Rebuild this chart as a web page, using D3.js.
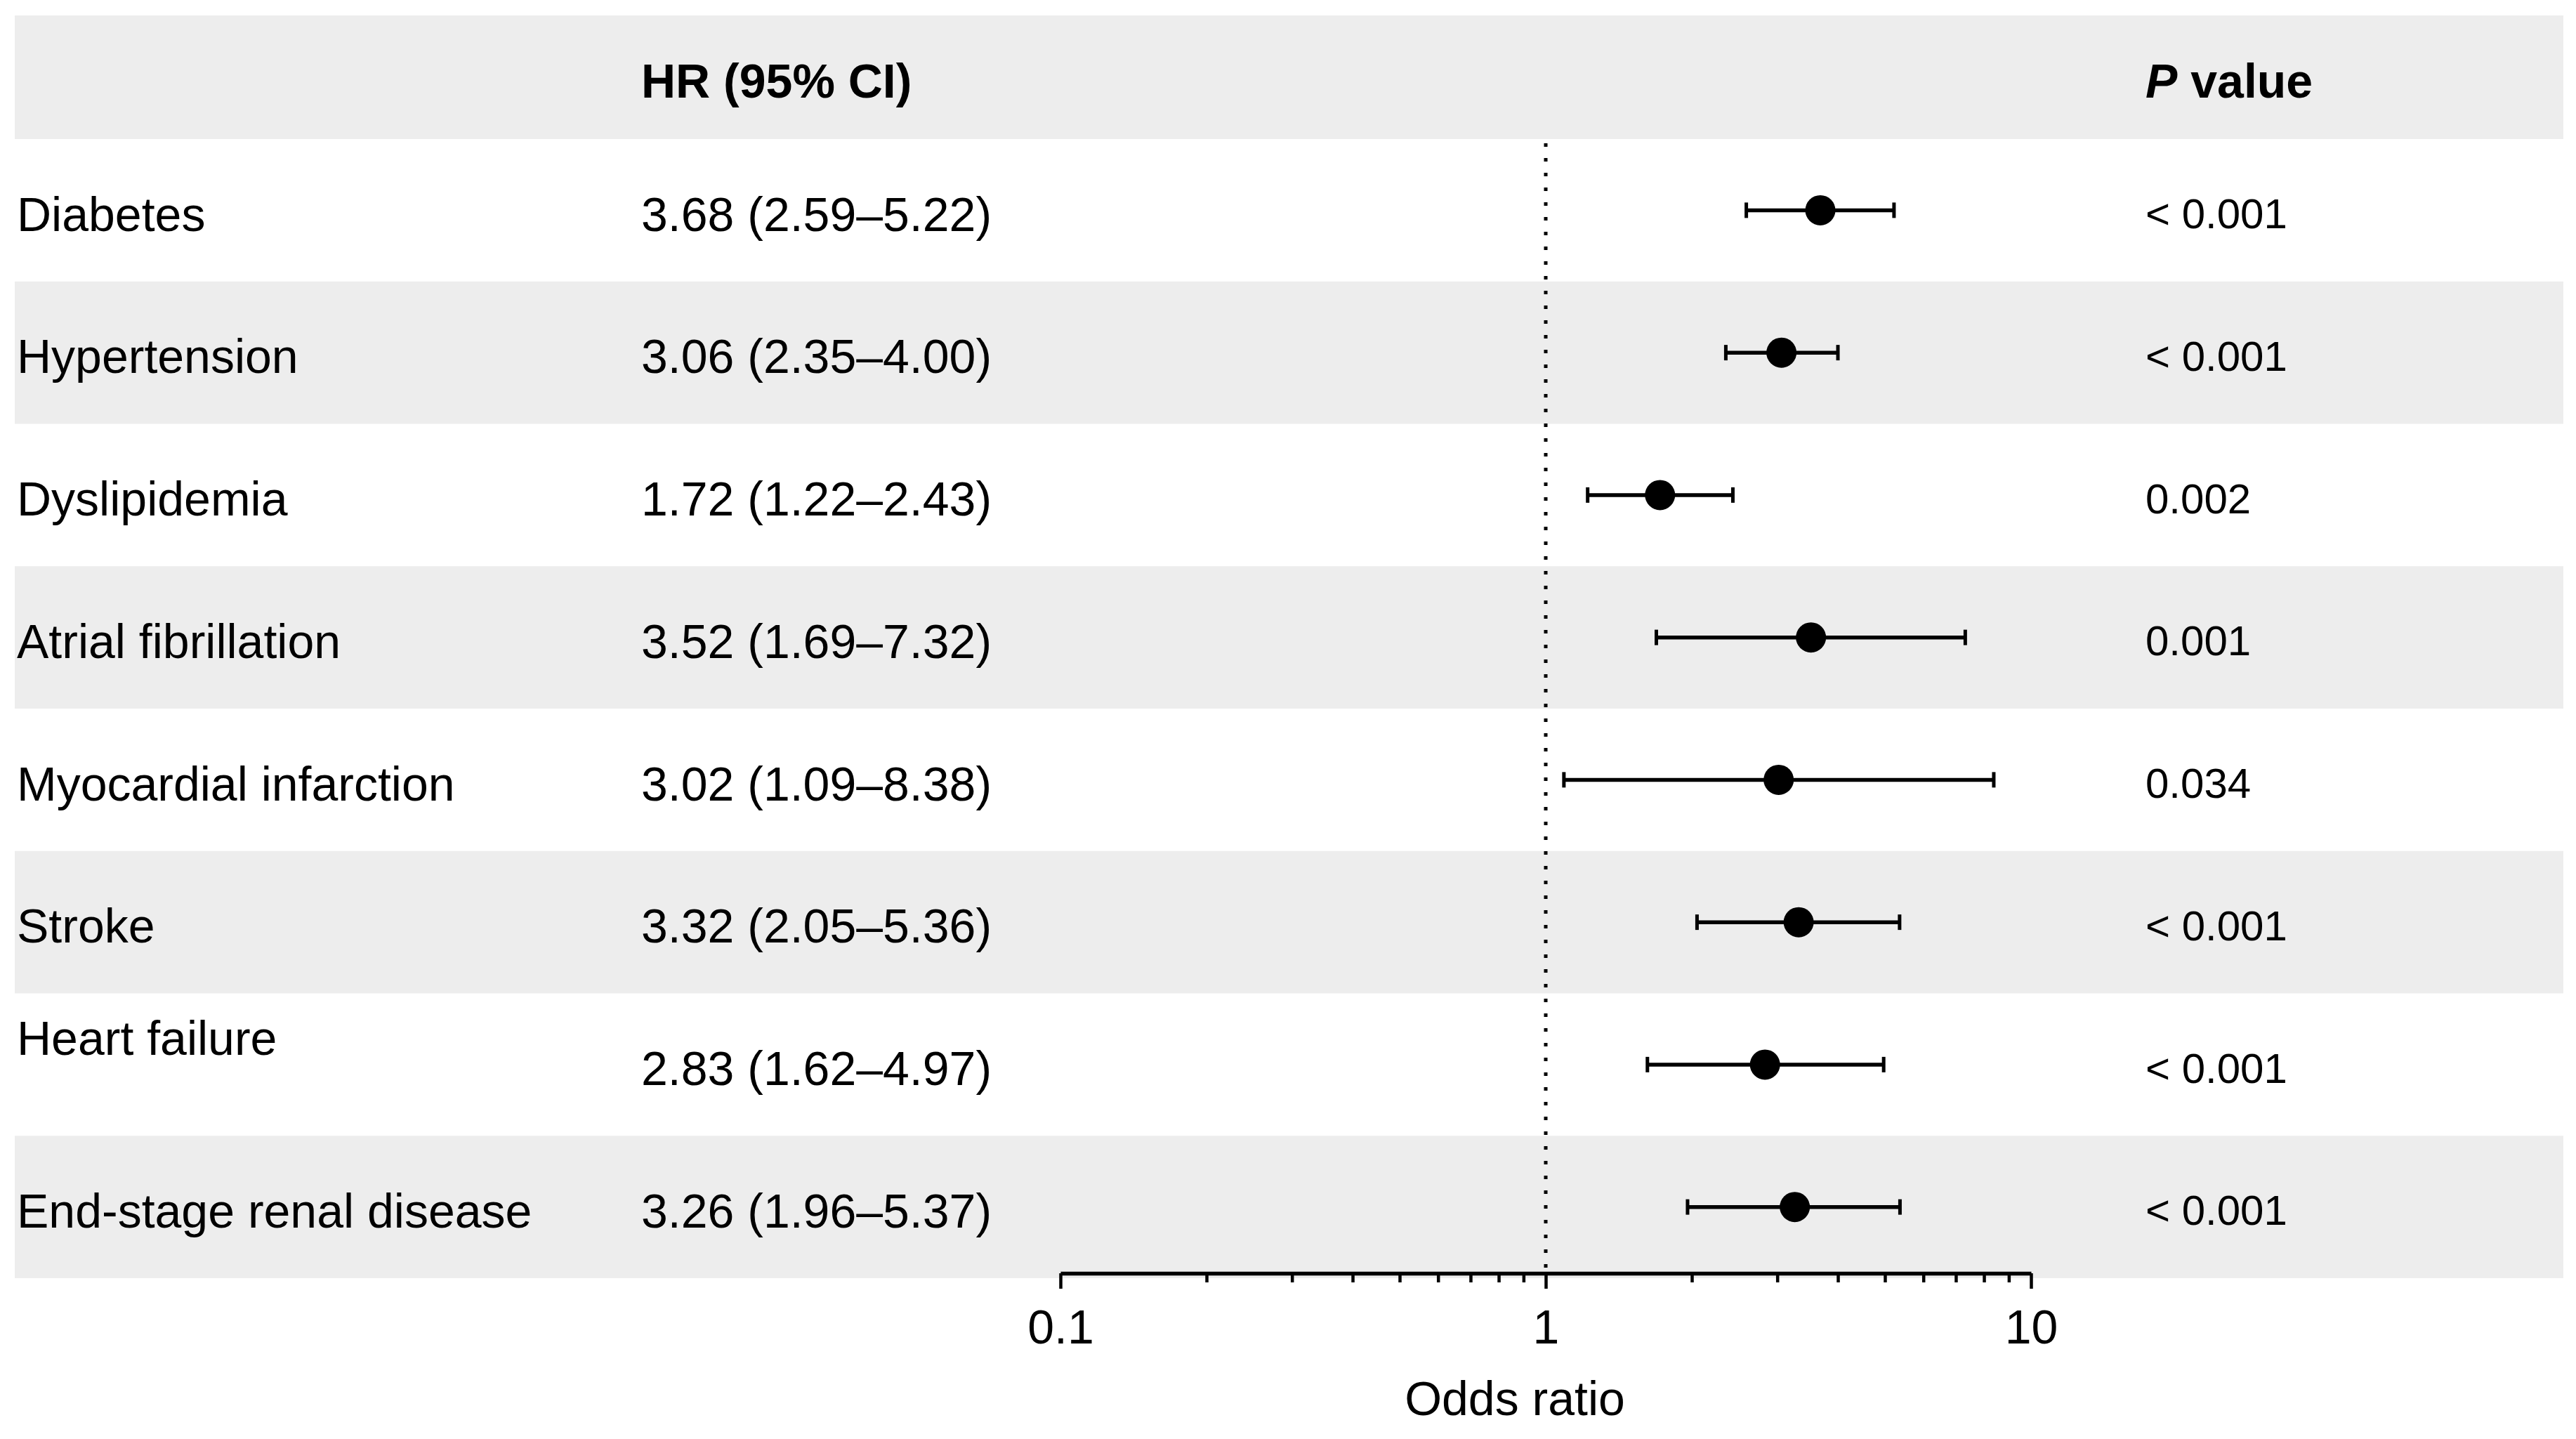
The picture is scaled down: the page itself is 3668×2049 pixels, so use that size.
<!DOCTYPE html>
<html>
<head>
<meta charset="utf-8">
<script src="https://cdn.jsdelivr.net/npm/d3@7"></script>
<style>
  body { margin: 0; background: #fff; }
  text { font-family: "Liberation Sans", Arial, sans-serif; fill: #000; }
</style>
</head>
<body>
<svg id="forest" width="3668" height="2049"></svg>
<script>
// row labels; trailing "\n" keeps the original's two-line cell for heart failure
const labels = ['Diabetes', 'Hypertension', 'Dyslipidemia', 'Atrial fibrillation',
    'Myocardial infarction', 'Stroke', 'Heart failure\n', 'End-stage renal disease'];
const hr = [3.68, 3.06, 1.72, 3.52, 3.02, 3.32, 2.83, 3.26];
const ciLow = [2.59, 2.35, 1.22, 1.69, 1.09, 2.05, 1.62, 1.96];
const ciHigh = [5.22, 4.00, 2.43, 7.32, 8.38, 5.36, 4.97, 5.37];
const pValues = ['< 0.001', '< 0.001', '0.002', '0.001', '0.034', '< 0.001', '< 0.001', '< 0.001'];
const majorTicks = [0.1, 1, 10];
const minorTicks = [0.2, 0.3, 0.4, 0.5, 0.6, 0.7, 0.8, 0.9, 2, 3, 4, 5, 6, 7, 8, 9];

const data = labels.map((d, i) => ({label: d, hr: hr[i], lo: ciLow[i], hi: ciHigh[i], p: pValues[i]}));

const svg = d3.select('#forest');
const left = 21, right = 3650;
const headerTop = 22, headerBottom = 198, rowsBottom = 1820;
const colHR = 913, colP = 3055;
const fs = 68;
const band = '#ededed';
const textDy = '0.43em';

const yScale = d3.scaleBand().domain(d3.range(data.length)).range([headerBottom, rowsBottom]);
const xScale = d3.scaleLog().domain([0.1, 10]).range([1510, 2892]);
const fmtCI = d => d3.format('.2f')(d.hr) + ' (' + d3.format('.2f')(d.lo) + '\u2013' + d3.format('.2f')(d.hi) + ')';

// header band
svg.append('rect')
    .attr('x', left).attr('y', headerTop)
    .attr('width', right - left).attr('height', headerBottom - headerTop)
    .attr('fill', band);
const headY = (headerTop + headerBottom) / 2;
svg.append('text')
    .attr('x', colHR).attr('y', headY).attr('dy', '0.42em')
    .style('font-size', fs + 'px').style('font-weight', 'bold')
    .text('HR (95% CI)');
const pHead = svg.append('text')
    .attr('x', colP).attr('y', headY).attr('dy', '0.42em')
    .style('font-size', fs + 'px').style('font-weight', 'bold');
pHead.append('tspan').style('font-style', 'italic').text('P');
pHead.append('tspan').text(' value');

// alternating row bands
svg.append('g').selectAll('rect')
    .data(data.filter((d, i) => i % 2 == 1))
    .enter().append('rect')
    .attr('x', left)
    .attr('y', d => yScale(data.indexOf(d)))
    .attr('width', right - left)
    .attr('height', yScale.bandwidth())
    .attr('fill', band);

const rows = svg.append('g').selectAll('g')
    .data(data)
    .enter().append('g')
    .attr('transform', (d, i) => `translate(0, ${yScale(i) + yScale.bandwidth() / 2})`);

// label column (multi-line labels are centred as a block)
rows.append('text')
    .style('font-size', fs + 'px')
    .each(function(d) {
        const lines = d.label.split('\n');
        const t = d3.select(this);
        lines.forEach((l, k) => {
            t.append('tspan')
                .attr('x', left + 3)
                .attr('dy', k == 0 ? (0.43 - (lines.length - 1) * 0.63) + 'em' : '1.26em')
                .text(l);
        });
    });

rows.append('text')
    .attr('x', colHR).attr('dy', textDy)
    .style('font-size', fs + 'px')
    .text(fmtCI);

rows.append('text')
    .attr('x', colP).attr('dy', textDy)
    .style('font-size', '60px')
    .text(d => d.p);

// reference line at 1
svg.append('line')
    .attr('x1', xScale(1)).attr('x2', xScale(1))
    .attr('y1', headerBottom + 6).attr('y2', 1808)
    .attr('stroke', '#000').attr('stroke-width', 5)
    .attr('stroke-dasharray', '5 16');

// error bars
rows.append('line')
    .attr('x1', d => xScale(d.lo)).attr('x2', d => xScale(d.hi))
    .attr('stroke', '#000').attr('stroke-width', 5.5);
rows.selectAll('.cap')
    .data(d => [d.lo, d.hi])
    .enter().append('line')
    .attr('class', 'cap')
    .attr('x1', d => xScale(d)).attr('x2', d => xScale(d))
    .attr('y1', -11).attr('y2', 11)
    .attr('stroke', '#000').attr('stroke-width', 5);
rows.append('circle')
    .attr('cx', d => xScale(d.hr))
    .attr('r', 21.5)
    .attr('fill', '#000');

// x axis
const axisY = 1813;
const xAxisG = svg.append('g').attr('transform', `translate(0, ${axisY})`);
xAxisG.call(d3.axisBottom(xScale)
        .tickValues(majorTicks.concat(minorTicks))
        .tickSize(13).tickSizeOuter(0)
        .tickFormat(d => majorTicks.includes(d) ? d3.format('~g')(d) : ''));
xAxisG.select('.domain').attr('stroke', '#000').attr('stroke-width', 5.5);
xAxisG.selectAll('.tick line').attr('stroke', '#000').attr('stroke-width', 4.5);
xAxisG.selectAll('.tick').filter(d => majorTicks.includes(d))
    .select('line').attr('y2', 22);
xAxisG.selectAll('.tick text')
    .attr('y', 100).attr('dy', 0)
    .style('font-size', fs + 'px')
    .style('font-family', '"Liberation Sans", Arial, sans-serif')
    .attr('fill', '#000');

svg.append('text')
    .attr('x', 2157).attr('y', 2015)
    .attr('text-anchor', 'middle')
    .style('font-size', fs + 'px')
    .text('Odds ratio');
</script>
</body>
</html>
